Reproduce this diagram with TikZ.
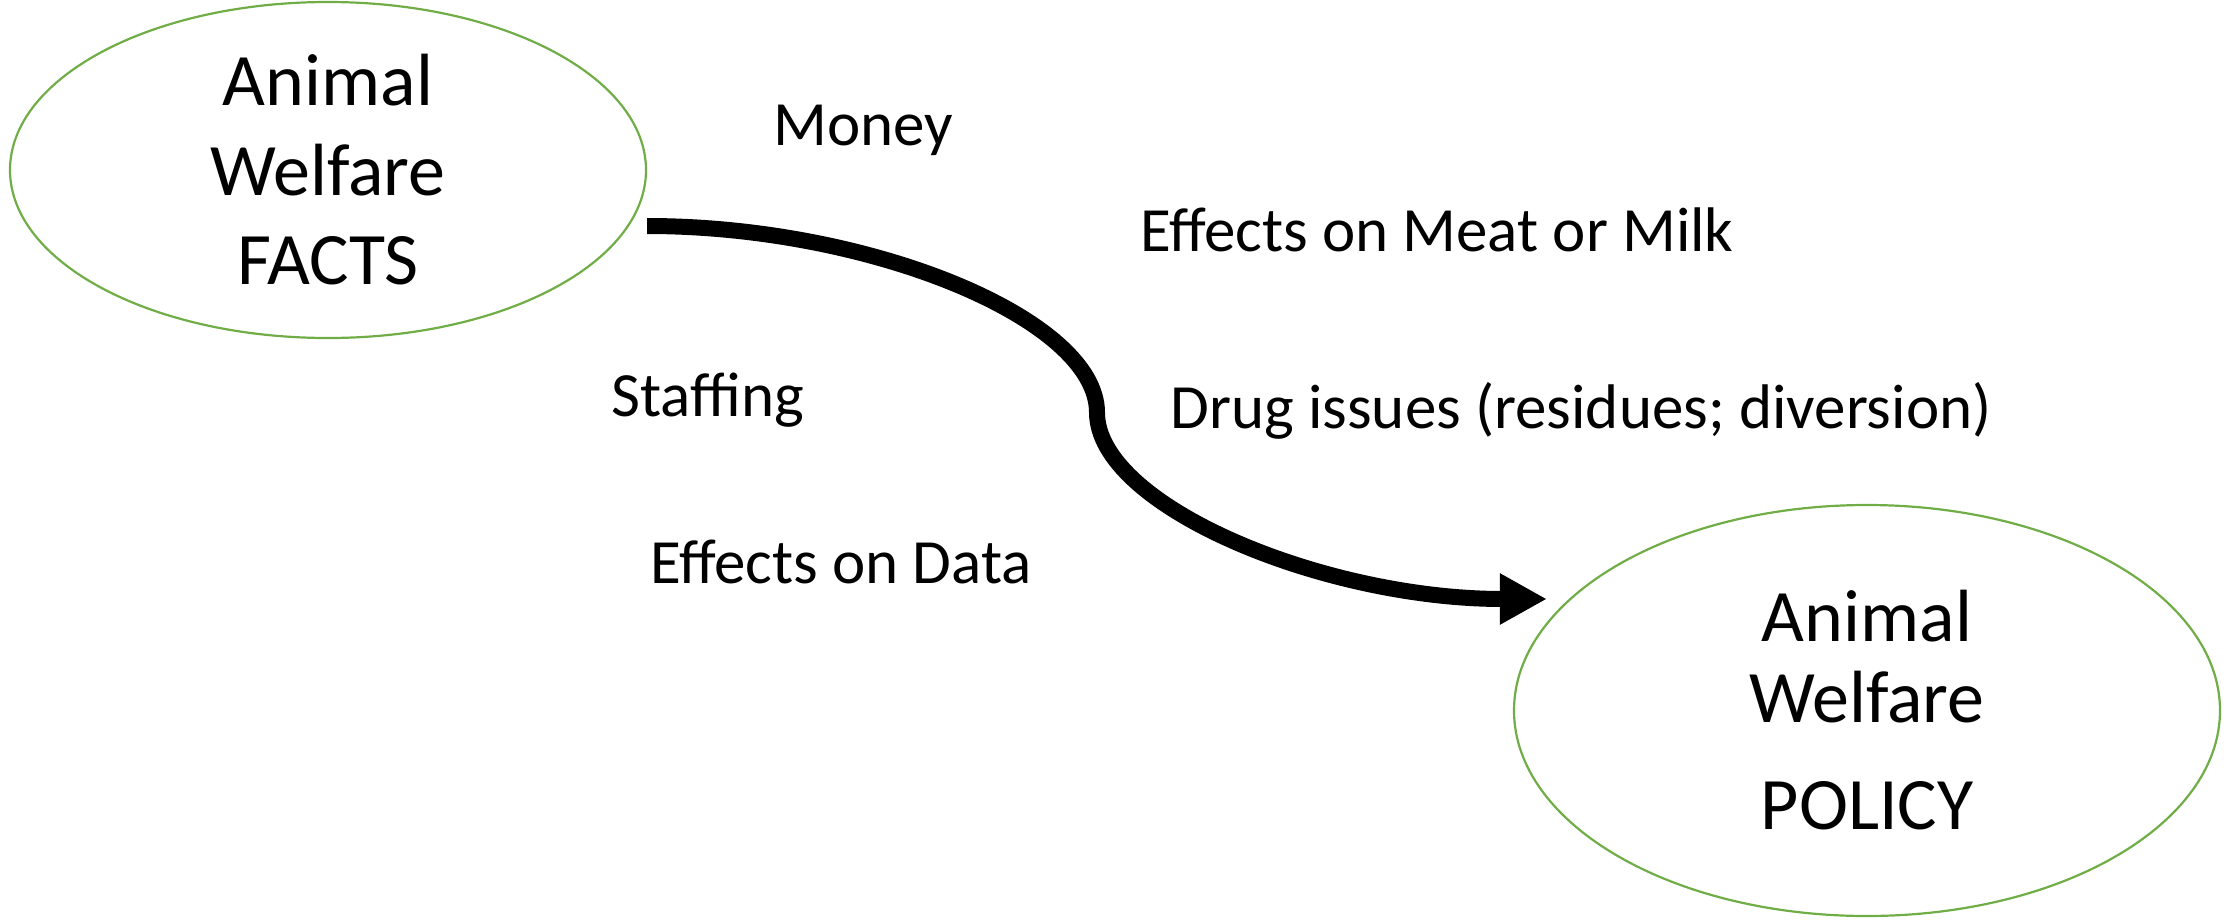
\documentclass[tikz,border=0pt]{standalone}
\usepackage{fontspec}
\setmainfont{Carlito}
\usepackage{tikz}
\usetikzlibrary{shapes.geometric,arrows.meta,calc}
\definecolor{leaf}{HTML}{70AD47}
\tikzstyle{topic} = [draw=leaf, line width=1.1pt, ellipse, inner sep=0pt, align=center, font={\fontsize{37}{44.75}\selectfont}]
\tikzstyle{factor} = [anchor=base, inner sep=0pt, font={\fontsize{31.5}{38}\selectfont}]
\tikzstyle{flow} = [line width=8pt, -{Triangle[length=23.5pt,width=24pt]}]

\begin{document}
\begin{tikzpicture}[x=0.5pt,y=-0.5pt]
    \useasboundingbox (0,0) rectangle (2229,922);
    \node[topic,minimum width=318pt,minimum height=168pt](facts) at (328,170){Animal\\Welfare\\FACTS};
    \node[topic,minimum width=353pt,minimum height=205.5pt,font={\fontsize{37}{40.5}\selectfont}](policy) at (1867,710.5){Animal\\Welfare\\[13pt]POLICY};
    \node[factor](money) at (863,145){Money};
    \node[factor](meat) at (1437,251){Effects on Meat or Milk};
    \node[factor](staff) at (708,416){Staffing};
    \node[factor](drug) at (1581,428){Drug issues (residues; diversion)};
    \node[factor](data) at (841,583){Effects on Data};
    \coordinate(src) at ($(facts.east)+(0,56)$);
    \coordinate(dst) at ($(policy.west)+(34,-111.5)$);
    \coordinate(bend) at ($(src)!0.5!(dst)$);
    \draw[flow](src) .. controls +(225,0) and +(0,-92.75) .. (bend) .. controls +(0,92.75) and +(-225,0) .. (dst);
  \end{tikzpicture}
\end{document}
